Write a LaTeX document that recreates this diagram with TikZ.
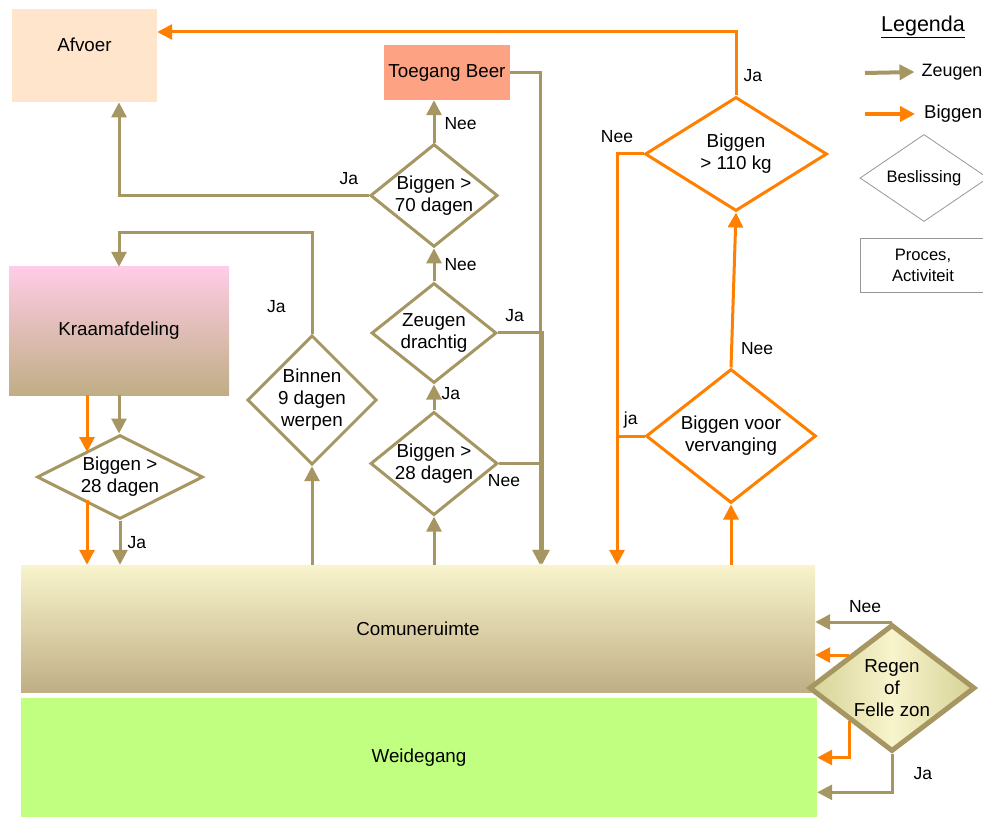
\documentclass[tikz,border=0pt]{standalone}
\usepackage{fontspec}
\setmainfont{Liberation Sans}
\usetikzlibrary{shapes.geometric,arrows.meta}
\definecolor{zeug}{RGB}{166,150,98}
\definecolor{bigg}{RGB}{255,128,0}
\definecolor{peach}{RGB}{255,229,204}
\definecolor{salmon}{RGB}{253,163,132}
\definecolor{roze}{RGB}{255,204,230}
\definecolor{khaki}{RGB}{192,174,133}
\definecolor{cream}{RGB}{248,244,204}
\definecolor{gras}{RGB}{193,255,128}
\definecolor{regen}{RGB}{214,210,150}
\definecolor{grijs}{RGB}{150,150,150}
\tikzset{
area/.style     = {shape=rectangle, inner sep=0pt, align=center,
                   font=\fontsize{18.8}{22}\selectfont},
decision/.style = {shape=diamond, draw, line width=3pt, inner sep=0pt,
                   align=center, font=\fontsize{18.8}{22}\selectfont},
sowdec/.style   = {decision, draw=zeug},
pigdec/.style   = {decision, draw=bigg},
sow/.style      = {draw=zeug, line width=3pt,
                   -{Triangle[length=15pt,width=15pt]}},
pig/.style      = {sow, draw=bigg},
sowline/.style  = {draw=zeug, line width=3pt},
pigline/.style  = {sowline, draw=bigg},
answer/.style   = {inner sep=0pt, font=\fontsize{17.5}{20}\selectfont},
legend/.style   = {draw=grijs, line width=0.8pt, inner sep=0pt,
                   align=center, font=\fontsize{16.6}{21}\selectfont}
}
\newcommand{\ja}[1]{node [answer,#1] {Ja}}
\newcommand{\nee}[1]{node [answer,#1] {Nee}}

\begin{document}
\begin{tikzpicture}[x=1pt,y=-1pt]
\useasboundingbox (0,0) rectangle (983,818);

% ruimtes
\node[area, fill=peach, minimum width=145pt, text height=42pt,
      text depth=51pt, anchor=north] (afvoer) at (84.5,9) {Afvoer};
\node[area, fill=salmon, minimum width=126pt, minimum height=55pt]
      (beer) at (447,72.5) {Toegang Beer};
\node[area, top color=roze, bottom color=khaki, minimum width=220pt,
      minimum height=128pt] (kraam) at (119,331) {Kraamafdeling};
\node[area, top color=cream, bottom color=khaki, minimum width=794pt,
      minimum height=127pt] (comun) at (418,628.5) {Comuneruimte};
\node[area, fill=gras, minimum width=796pt, minimum height=119pt]
      (weide) at (419,757.5) {Weidegang};

% beslissingen
\node[pigdec, minimum width=182pt, minimum height=114pt, aspect=1.6]
      (d110) at (736,154) {Biggen\\> 110 kg};
\node[pigdec, minimum width=170pt, minimum height=134pt, aspect=1.27]
      (dverv) at (731,436) {Biggen voor\\vervanging};
\node[sowdec, line width=5pt, left color=regen, right color=regen,
      middle color=cream, minimum width=166pt, minimum height=127pt,
      aspect=1.3] (dregen) at (892,688) {Regen\\of\\Felle zon};
\node[sowdec, minimum width=126pt, minimum height=126pt, aspect=1]
      (dbinnen) at (312,400) {Binnen\\9 dagen\\werpen};
\node[sowdec, minimum width=166pt, minimum height=84pt, aspect=2]
      (d28a) at (120,477) {Biggen >\\28 dagen};
\node[sowdec, minimum width=127pt, minimum height=103pt, aspect=1.23]
      (d28b) at (434,463.5) {Biggen >\\28 dagen};
\node[sowdec, minimum width=125pt, minimum height=100pt, aspect=1.25]
      (ddracht) at (434,333) {Zeugen\\drachtig};
\node[sowdec, minimum width=126pt, minimum height=101pt, aspect=1.24]
      (d70) at (434,195.5) {Biggen >\\70 dagen};

% legenda
\node[inner sep=0pt, font=\fontsize{21.5}{24}\selectfont]
      (legenda) at (923,27) {\underline{Legenda}};
\node[answer, font=\fontsize{17.9}{22}\selectfont, anchor=west]
      (zeugen) at (921.5,72) {Zeugen};
\node[answer, font=\fontsize{18.6}{22}\selectfont, anchor=west]
      (biggen) at (924,114) {Biggen};
\node[legend, shape=diamond, minimum width=128pt, minimum height=87pt,
      aspect=1.47] (beslis) at (924,178) {Beslissing};
\node[legend, minimum width=126pt, minimum height=54pt]
      (proces) at (923,265) {Proces,\\Activiteit};
\coordinate (lz) at (865,73);
\coordinate (lb) at (865,114);
\draw[sow, line width=4pt] (lz) -- ([xshift=-7pt]zeugen.west);
\draw[pig, line width=4pt] (lb) -- ([xshift=-9pt]biggen.west);

% biggen
\coordinate (top) at (736,32);
\coordinate (nee110) at (617,154);
\coordinate (kb) at (87,452);
\coordinate (kc) at (87,500);
\draw[pig] (d110.north) -- (top) \ja{pos=.31, right=6pt}
           -- (afvoer.east |- top);
\draw[pig] (d110.west) -- (nee110) \nee{above=10pt}
           -- (nee110 |- comun.north);
\draw[pigline] (dverv.west) -- (nee110 |- dverv.west)
           node[answer, midway, above=6pt] {ja};
\draw[pig] (dverv.north) -- (d110.south) \nee{pos=.12, right=8pt};
\draw[pig] (dverv.south |- comun.north) -- (dverv.south);
\draw[pig] (kraam.south -| kb) -- (kb);
\draw[pig] (kc) -- (kc |- comun.north);
\draw[pig] (dregen.north west) -- (comun.east |- dregen.north west);
\draw[pig] (dregen.south west) |- (weide.east);

% zeugen
\coordinate (rail) at (540,72.5);
\coordinate (rail2) at (542,72.5);
\draw[sow] (kraam.south) -- (kraam.south |- d28a.north);
\draw[sow] (d28a.south) -- (d28a.south |- comun.north) \ja{midway, right=6pt};
\draw[sow] (dbinnen.south |- comun.north) -- (dbinnen.south);
\draw[sow] (dbinnen.north) -- ++(0,-101) \ja{pos=.27, left=25pt}
           -| (kraam.north);
\draw[sow] (d28b.south |- comun.north) -- (d28b.south);
\draw[sow] (d28b.north) -- (ddracht.south) \ja{pos=.66, right=6pt};
\draw[sow] (ddracht.north) -- (d70.south) \nee{midway, right=9pt};
\draw[sow] (d70.north) -- (d70.north |- beer.south) \nee{pos=.44, right=9pt};
\draw[sow] (d70.west) -| (kraam.north |- afvoer.south)
           \ja{pos=.04, above=9pt};
\draw[sow] (beer.east) -- (rail) -- (rail |- comun.north);
\draw[sow] (ddracht.east) -- (rail2 |- ddracht.east)
           \ja{pos=.38, above=10pt} -- (rail2 |- comun.north);
\draw[sowline] (d28b.east) -- (rail |- d28b.east) \nee{pos=.12, below=9pt};
\draw[sow] (dregen.north) -- (comun.east |- dregen.north)
           \nee{pos=.35, above=8pt};
\draw[sow] (dregen.south) |- (weide.-5) \ja{pos=.25, right=20pt};
\end{tikzpicture}
\end{document}
